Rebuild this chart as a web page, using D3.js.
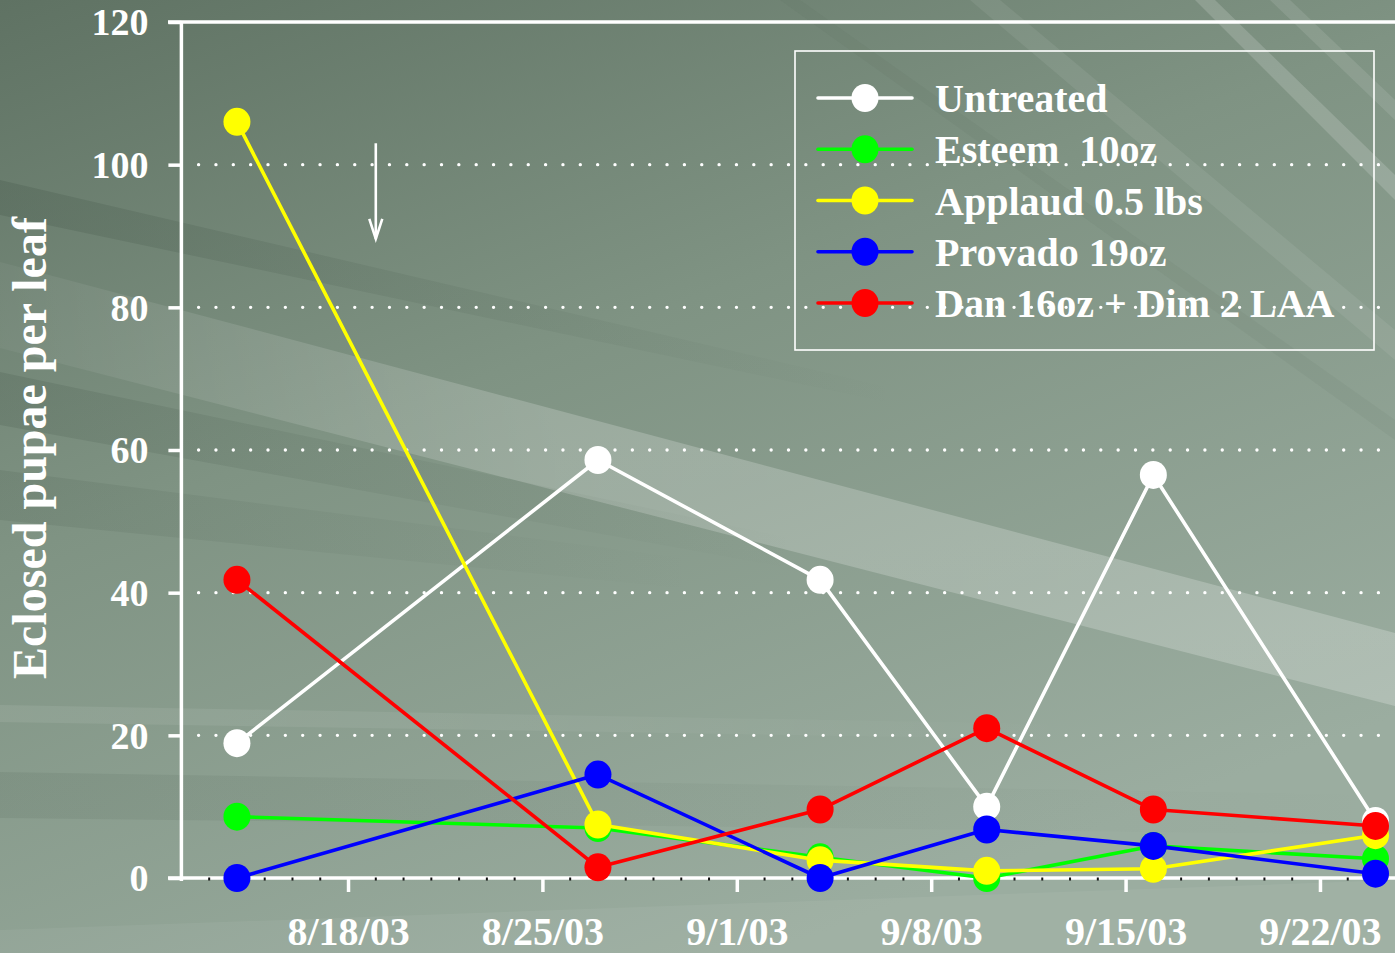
<!DOCTYPE html>
<html>
<head>
<meta charset="utf-8">
<script src="https://cdn.jsdelivr.net/npm/d3@7"></script>
<style>
  html, body { margin: 0; padding: 0; background: #8a9d8c; }
  svg { display: block; }
  text { font-family: "Liberation Serif", "Times New Roman", serif; font-weight: bold; fill: #ffffff; }
</style>
</head>
<body>
<svg id="chart" width="1395" height="953"></svg>
<script>
// ---- data ----
const dates = ["2003-08-14", "2003-08-27", "2003-09-04", "2003-09-10", "2003-09-16", "2003-09-24"];
const seriesNames = ["Untreated", "Esteem  10oz", "Applaud 0.5 lbs", "Provado 19oz", "Dan 16oz + Dim 2 LAA"];
const seriesColors = ["#ffffff", "#00ff00", "#ffff00", "#0000ff", "#ff0000"];
const untreated = [18.9, 58.6, 41.8, 10.0, 56.5, 8.0];
const esteem    = [8.6, 7.0, 2.9, 0.0, 4.5, 2.7];
const applaud   = [106.0, 7.5, 2.5, 1.0, 1.3, 6.0];
const provado   = [0.0, 14.5, 0.0, 6.8, 4.5, 0.6];
const dan       = [41.8, 1.5, 9.6, 21.0, 9.6, 7.3];
const yTicks = [0, 20, 40, 60, 80, 100, 120];
const yGrid = [20, 40, 60, 80, 100];
const xTickDates = ["2003-08-18", "2003-08-25", "2003-09-01", "2003-09-08", "2003-09-15", "2003-09-22"];
const xDomain = ["2003-08-12", "2003-09-25"];
const yLabel = "Eclosed pupae per leaf";
const arrowDate = "2003-08-19";
const arrowFrom = 103;
const arrowTo = 89.6;

const allValues = [untreated, esteem, applaud, provado, dan];
const parse = d3.utcParse("%Y-%m-%d");
const fmt = d3.utcFormat("%-m/%-d/%y");

const W = 1395, H = 953;
const svg = d3.select("#chart");
const defs = svg.append("defs");

// ---- background ----
const bg = defs.append("linearGradient").attr("id", "bgGrad")
  .attr("x1", "0").attr("y1", "0").attr("x2", "0.55").attr("y2", "1");
bg.append("stop").attr("offset", "0%").attr("stop-color", "#5f7263");
bg.append("stop").attr("offset", "45%").attr("stop-color", "#7f9383");
bg.append("stop").attr("offset", "100%").attr("stop-color", "#9bada0");
svg.append("rect").attr("width", W).attr("height", H).attr("fill", "url(#bgGrad)");

function fadeGrad(id, color, a0, a1, a2) {
  const g = defs.append("linearGradient").attr("id", id)
    .attr("x1", "0").attr("y1", "0").attr("x2", "1").attr("y2", "0");
  g.append("stop").attr("offset", "0%").attr("stop-color", color).attr("stop-opacity", a0);
  g.append("stop").attr("offset", "40%").attr("stop-color", color).attr("stop-opacity", a1);
  g.append("stop").attr("offset", "100%").attr("stop-color", color).attr("stop-opacity", a2);
}
fadeGrad("bandGrad", "#ffffff", 0.04, 0.2, 0.22);
fadeGrad("darkFade", "#3a4c3f", 0.22, 0.12, 0);
fadeGrad("lightFade", "#ffffff", 0.08, 0.06, 0);

const streaks = [
  { pts: [[0, 262], [1395, 633], [1395, 706], [0, 348]], fill: "url(#bandGrad)", op: 1 },
  { pts: [[0, 180], [900, 390], [900, 405], [0, 215]], fill: "url(#darkFade)", op: 1 },
  { pts: [[0, 372], [800, 540], [800, 570], [0, 425]], fill: "url(#darkFade)", op: 0.8 },
  { pts: [[0, 470], [700, 560], [700, 590], [0, 520]], fill: "url(#darkFade)", op: 0.6 },
  { pts: [[0, 772], [1395, 795], [1395, 835], [0, 818]], fill: "url(#darkFade)", op: 0.5 },
  { pts: [[0, 705], [1100, 725], [1100, 740], [0, 722]], fill: "url(#lightFade)", op: 1 },
  { pts: [[1215, 0], [1395, 175], [1395, 200], [1195, 0]], fill: "#ffffff", op: 0.16 },
  { pts: [[1290, 0], [1395, 100], [1395, 120], [1270, 0]], fill: "#ffffff", op: 0.10 },
  { pts: [[1000, 0], [1395, 330], [1395, 360], [970, 0]], fill: "#ffffff", op: 0.07 },
  { pts: [[800, 0], [1395, 420], [1395, 440], [780, 0]], fill: "#3f5245", op: 0.06 },
  { pts: [[0, 930], [1395, 880], [1395, 953], [0, 953]], fill: "#ffffff", op: 0.05 }
];
svg.append("g").selectAll("polygon").data(streaks).join("polygon")
  .attr("points", d => d.pts.map(p => p.join(",")).join(" "))
  .attr("fill", d => d.fill).attr("opacity", d => d.op);

// ---- scales ----
const x = d3.scaleUtc().domain(xDomain.map(parse)).range([181.4, 181.4 + 44 * 27.77]);
const y = d3.scaleLinear().domain([0, 120]).range([878, 22]);

// ---- gridlines (dotted) ----
svg.append("g").selectAll("line").data(yGrid).join("line")
  .attr("x1", 181 + 17.6).attr("x2", W)
  .attr("y1", d => y(d)).attr("y2", d => y(d))
  .attr("stroke", "#ffffff").attr("stroke-width", 3.4)
  .attr("stroke-linecap", "round").attr("stroke-dasharray", "0 17.35");

// ---- axes ----
const axisG = svg.append("g");
const x0 = x(parse(xDomain[0]));
axisG.append("line").attr("x1", 168).attr("x2", W).attr("y1", y(120)).attr("y2", y(120))
  .attr("stroke", "#fff").attr("stroke-width", 3.5);
axisG.append("line").attr("x1", x0).attr("x2", x0)
  .attr("y1", y(120)).attr("y2", y(0) + 3)
  .attr("stroke", "#fff").attr("stroke-width", 3.5);
axisG.append("line").attr("x1", 168).attr("x2", W).attr("y1", y(0)).attr("y2", y(0))
  .attr("stroke", "#fff").attr("stroke-width", 3.5);

// y ticks + labels
const yAxis = d3.axisLeft(y).tickValues(yTicks).tickSize(13).tickPadding(20).tickFormat(d3.format("d"));
const yg = svg.append("g").attr("transform", `translate(${x0},0)`).call(yAxis);
yg.select(".domain").remove();
yg.selectAll(".tick line").attr("stroke", "#fff").attr("stroke-width", 3.5);
yg.selectAll(".tick text").attr("fill", "#fff").style("font-size", "38px")
  .style("font-family", "'Liberation Serif', serif").style("font-weight", "bold")
  .attr("dy", "0.34em").attr("x", -33);

// x minor ticks (daily dark dots)
const days = d3.utcDay.range(parse(xDomain[0]), parse(xDomain[1]));
const majorSet = new Set(xTickDates);
const keyFmt = d3.utcFormat("%Y-%m-%d");
svg.append("g").selectAll("rect")
  .data(days.filter(d => !majorSet.has(keyFmt(d)) && x(d) > 185 && x(d) < W))
  .join("rect")
  .attr("x", d => x(d) - 1).attr("y", y(0) - 0.5).attr("width", 2).attr("height", 3)
  .attr("fill", "#111");

// x major ticks + labels
const xAxis = d3.axisBottom(x).tickValues(xTickDates.map(parse)).tickSize(14).tickPadding(0)
  .tickFormat(d => fmt(d));
const xg = svg.append("g").attr("transform", `translate(0,${y(0)})`).call(xAxis);
xg.select(".domain").remove();
xg.selectAll(".tick line").attr("stroke", "#fff").attr("stroke-width", 3.5);
xg.selectAll(".tick text").attr("fill", "#fff").style("font-size", "40px")
  .style("font-family", "'Liberation Serif', serif").style("font-weight", "bold")
  .attr("y", 67).attr("dy", 0);

// y axis title
svg.append("text")
  .attr("transform", `translate(46,${(218 + 678) / 2}) rotate(-90)`)
  .attr("text-anchor", "middle")
  .style("font-size", "48px")
  .text(yLabel);

// ---- arrow annotation ----
const ax = x(parse(arrowDate));
const arrowG = svg.append("g").attr("stroke", "#fff").attr("fill", "none").attr("stroke-width", 2.6);
arrowG.append("line").attr("x1", ax).attr("x2", ax).attr("y1", y(arrowFrom)).attr("y2", y(arrowTo));
arrowG.append("path")
  .attr("d", `M${ax - 6.5},${y(arrowTo) - 20} L${ax},${y(arrowTo)} L${ax + 6.5},${y(arrowTo) - 20}`)
  .attr("stroke-linejoin", "miter");

// ---- series ----
const line = d3.line().x((d, i) => x(parse(dates[i]))).y(d => y(d));
allValues.forEach((vals, si) => {
  const g = svg.append("g");
  g.append("path").attr("d", line(vals)).attr("fill", "none")
    .attr("stroke", seriesColors[si]).attr("stroke-width", 3.6).attr("stroke-linejoin", "round");
  g.selectAll("ellipse").data(vals).join("ellipse")
    .attr("cx", (d, i) => x(parse(dates[i]))).attr("cy", d => y(d))
    .attr("rx", 13.5).attr("ry", 14)
    .attr("fill", seriesColors[si]);
});

// ---- legend ----
const lg = svg.append("g");
lg.append("rect").attr("x", 795).attr("y", 51).attr("width", 579).attr("height", 299)
  .attr("fill", "none").attr("stroke", "#fff").attr("stroke-width", 1.6);
const rowY = d3.scaleLinear().domain([0, 4]).range([98, 303]);
seriesNames.forEach((name, i) => {
  const ry = rowY(i);
  lg.append("line").attr("x1", 818).attr("x2", 912).attr("y1", ry).attr("y2", ry)
    .attr("stroke", seriesColors[i]).attr("stroke-width", 3.6).attr("stroke-linecap", "round");
  lg.append("ellipse").attr("cx", 865).attr("cy", ry).attr("rx", 13.5).attr("ry", 14)
    .attr("fill", seriesColors[i]);
  lg.append("text").attr("x", 935).attr("y", ry + 14).style("font-size", "40px")
    .style("white-space", "pre").text(name);
});
</script>
</body>
</html>
